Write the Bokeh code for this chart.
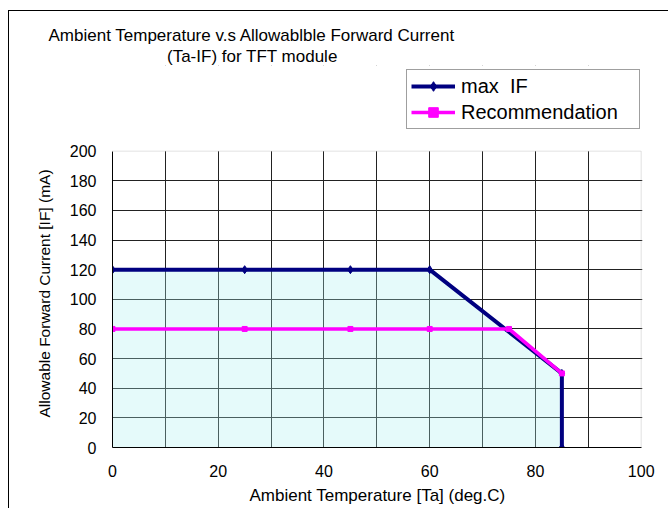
from bokeh.plotting import figure
from bokeh.models import Range1d, FixedTicker, Legend, LegendItem, Title, BoxAnnotation
from bokeh.embed import file_html
from bokeh.resources import INLINE

# ---- data ----
temp_max = [0, 25, 45, 60, 85, 85]
if_max = [120, 120, 120, 120, 50, 0]
temp_rec = [0, 25, 45, 60, 75, 85]
if_rec = [80, 80, 80, 80, 80, 50]

x_ticks = [0, 20, 40, 60, 80, 100]
x_grid = [10, 20, 30, 40, 50, 60, 70, 80, 90]
y_ticks = [0, 20, 40, 60, 80, 100, 120, 140, 160, 180, 200]
y_grid = [20, 40, 60, 80, 100, 120, 140, 160, 180]
x_axis_bounds = (0, 100)
y_axis_bounds = (0, 200)

title_line1 = "Ambient Temperature v.s Allowablble Forward Current"
title_line2 = "(Ta-IF) for TFT module"
x_label = "Ambient Temperature [Ta] (deg.C)"
y_label = "Allowable Forward Current [IF] (mA)"
label_max = "max  IF"
label_rec = "Recommendation"

FONT = "Liberation Sans"
NAVY = "#000080"
PINK = "#ff00ff"

# The frame reaches up to just under the title so the legend (which sits
# above the 0..200 box) is not clipped; axes are bounded to the data box.
p = figure(width=660, height=498, output_backend="svg", toolbar_location=None,
           title=None,
           x_range=Range1d(0, 100.25), y_range=Range1d(0, 257.8),
           min_border_left=103, min_border_right=27,
           min_border_top=54, min_border_bottom=62)
p.styles = {"margin-left": "8px", "margin-top": "10px",
            "border-left": "1px solid black", "border-top": "1px solid black"}

p.background_fill_color = "white"
p.border_fill_color = "white"
p.outline_line_color = None

# axes
for ax in (p.xaxis, p.yaxis):
    ax.major_tick_out = 0
    ax.major_tick_in = 0
    ax.minor_tick_out = 0
    ax.minor_tick_in = 0
    ax.axis_line_color = "black"
    ax.axis_line_width = 1
    ax.major_label_text_font = FONT
    ax.major_label_text_font_size = "16px"
    ax.major_label_text_color = "black"
    ax.axis_label_text_font = FONT
    ax.axis_label_text_font_style = "normal"
    ax.axis_label_text_color = "black"

p.xaxis.ticker = FixedTicker(ticks=x_ticks)
p.yaxis.ticker = FixedTicker(ticks=y_ticks)
p.xaxis.bounds = x_axis_bounds
p.yaxis.bounds = y_axis_bounds
p.xaxis.axis_label = x_label
p.xaxis.axis_label_text_font_size = "17px"
p.xaxis.major_label_standoff = 17
p.xaxis.axis_label_standoff = 6
p.yaxis.major_label_standoff = 16

# grid
p.xgrid.ticker = FixedTicker(ticks=x_grid)
p.ygrid.ticker = FixedTicker(ticks=y_grid)
for g in (p.xgrid, p.ygrid):
    g.grid_line_color = "#222222"
    g.grid_line_width = 1

# white cover above the 0..200 box, then the grey top/right border of the box
p.add_layout(BoxAnnotation(bottom=y_axis_bounds[1], fill_color="white",
                           fill_alpha=1, line_color=None))
p.add_layout(BoxAnnotation(left=-5, right=x_axis_bounds[1], bottom=-5,
                           top=y_axis_bounds[1], fill_alpha=0,
                           line_color="#a0a0a0", line_width=1))

# area under max IF
p.varea(x=temp_max, y1=0, y2=if_max, fill_color="#a8f0f0", fill_alpha=0.3)

r_max_line = p.line(temp_max, if_max, line_color=NAVY, line_width=4)
r_max_pts = p.scatter(temp_max, if_max, marker="diamond", size=8, color=NAVY)
r_rec_line = p.line(temp_rec, if_rec, line_color=PINK, line_width=3.5)
r_rec_pts = p.scatter(temp_rec, if_rec, marker="square", size=5, color=PINK)

legend = Legend(items=[
    LegendItem(label=label_max, renderers=[r_max_line, r_max_pts]),
    LegendItem(label=label_rec, renderers=[r_rec_line, r_rec_pts]),
], location=(294, 318))
legend.label_text_font = FONT
legend.label_text_font_size = "20px"
legend.label_text_color = "black"
legend.glyph_width = 44
legend.glyph_height = 24
legend.label_height = 24
legend.label_standoff = 6
legend.label_width = 174
legend.padding = 4
legend.spacing = 2
legend.border_line_color = "#404040"
legend.border_line_width = 1
legend.background_fill_color = "white"
legend.background_fill_alpha = 1
p.add_layout(legend)

# y axis title, placed along the 0..200 part of the axis
ty = Title(text=y_label, align="left", offset=30, standoff=27,
           vertical_align="bottom",
           text_font=FONT, text_font_size="15.5px", text_font_style="normal",
           text_color="black")
p.add_layout(ty, "left")

# chart title (line 2 nearest the frame)
t2 = Title(text=title_line2, align="left", offset=54.5, standoff=0,
           text_font=FONT, text_font_size="17px", text_font_style="normal",
           text_color="black")
t1 = Title(text=title_line1, align="left", offset=-64, standoff=0,
           text_font=FONT, text_font_size="17px", text_font_style="normal",
           text_color="black")
p.add_layout(t2, "above")
p.add_layout(t1, "above")

open("out.html", "w").write(file_html(p, INLINE))
